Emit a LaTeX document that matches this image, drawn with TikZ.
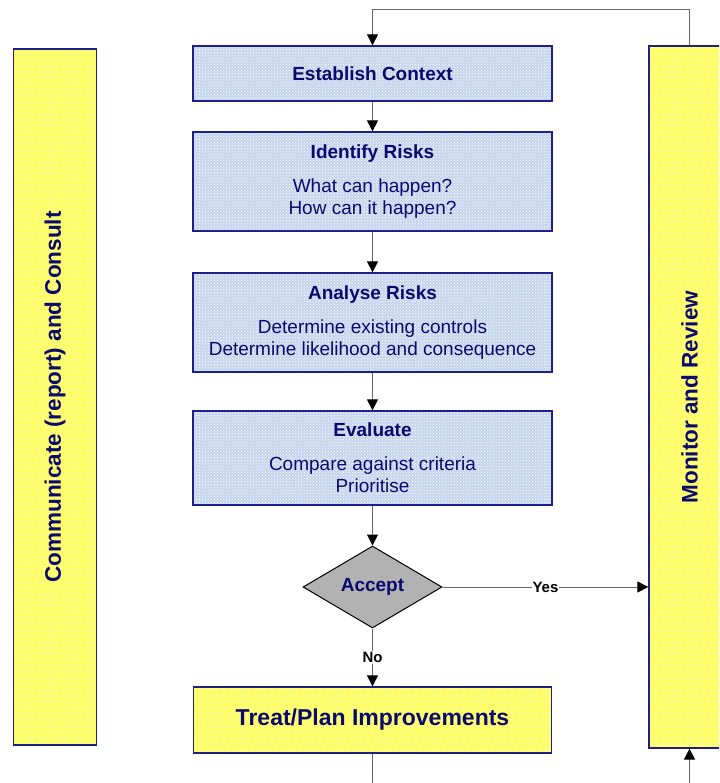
\documentclass[tikz,border=0pt]{standalone}
\usepackage{fontspec}
\setmainfont{Liberation Sans}
\usetikzlibrary{patterns,shapes.geometric,arrows.meta}
\definecolor{ink}{HTML}{0A0A6E}
\definecolor{edge}{HTML}{1E1E8C}
\definecolor{paleblue}{HTML}{C4D6EE}
\definecolor{paleyellow}{HTML}{FFFF55}
\begin{document}
\begin{tikzpicture}[x=1pt,y=-1pt,
    box/.style={draw=edge, line width=1.3pt, text=ink, align=center, inner sep=0pt,
      minimum width=359pt, preaction={fill=paleblue}, pattern=crosshatch dots, pattern color=white},
    sidebox/.style={box, preaction={fill=paleyellow}},
    flow/.style={draw=black!60, line width=1pt, -{Triangle[length=11pt,width=11pt,color=black]}},
    lab/.style={font=\fontsize{15}{15}\selectfont\bfseries, fill=white, inner sep=1pt},
    title/.style={font=\fontsize{19}{22}\selectfont\bfseries}]
      \useasboundingbox (0,0) rectangle (719,783);
      \clip (0,0) rectangle (719,783);

      \node [sidebox, rotate=90, minimum width=696pt, minimum height=83pt,
        font=\fontsize{22.5}{25}\selectfont\bfseries] (consult) at (55,397) {Communicate (report) and Consult};
      \node [sidebox, rotate=90, minimum width=702pt, minimum height=81pt,
        font=\fontsize{22.5}{25}\selectfont\bfseries] (monitor) at (689.5,397) {Monitor and Review};

      \node [box, minimum height=55pt, title] (context) at (372.5,73.5) {Establish Context};
      \node [box, minimum height=99pt, font=\fontsize{19}{22}\selectfont] (identify) at (372.5,181.5)
        {\textbf{Identify Risks}\\[12pt] What can happen?\\ How can it happen?};
      \node [box, minimum height=99pt, font=\fontsize{19}{22}\selectfont] (analyse) at (372.5,322.5)
        {\textbf{Analyse Risks}\\[12pt] Determine existing controls\\ Determine likelihood and consequence};
      \node [box, minimum height=94pt, font=\fontsize{19}{22}\selectfont] (evaluate) at (372.5,458)
        {\textbf{Evaluate}\\[12pt] Compare against criteria\\ Prioritise};
      \node [diamond, draw=black, line width=1pt, fill=black!30, aspect=1.7, inner sep=0pt,
        minimum width=139pt, minimum height=82pt, text=ink, title] (accept) at (372.5,587) {Accept};
      \node [sidebox, minimum width=358pt, minimum height=66pt,
        font=\fontsize{23}{26}\selectfont\bfseries] (treat) at (372.5,720) {Treat/Plan Improvements};

      \coordinate (loop) at (372.5,10);
      \coordinate (under) at (372.5,800);
      \draw [flow] (monitor.east) |- (loop) -- (context.north);
      \draw [flow] (context) -- (identify);
      \draw [flow] (identify) -- (analyse);
      \draw [flow] (analyse) -- (evaluate);
      \draw [flow] (evaluate) -- (accept);
      \draw [flow] (accept.east) -- node [lab] {Yes} (accept.east -| monitor.north);
      \draw [flow] (accept.south) -- node [lab] {No} (treat.north);
      \draw [flow] (treat.south) -- (under) -| (monitor.west);
    \end{tikzpicture}
\end{document}
